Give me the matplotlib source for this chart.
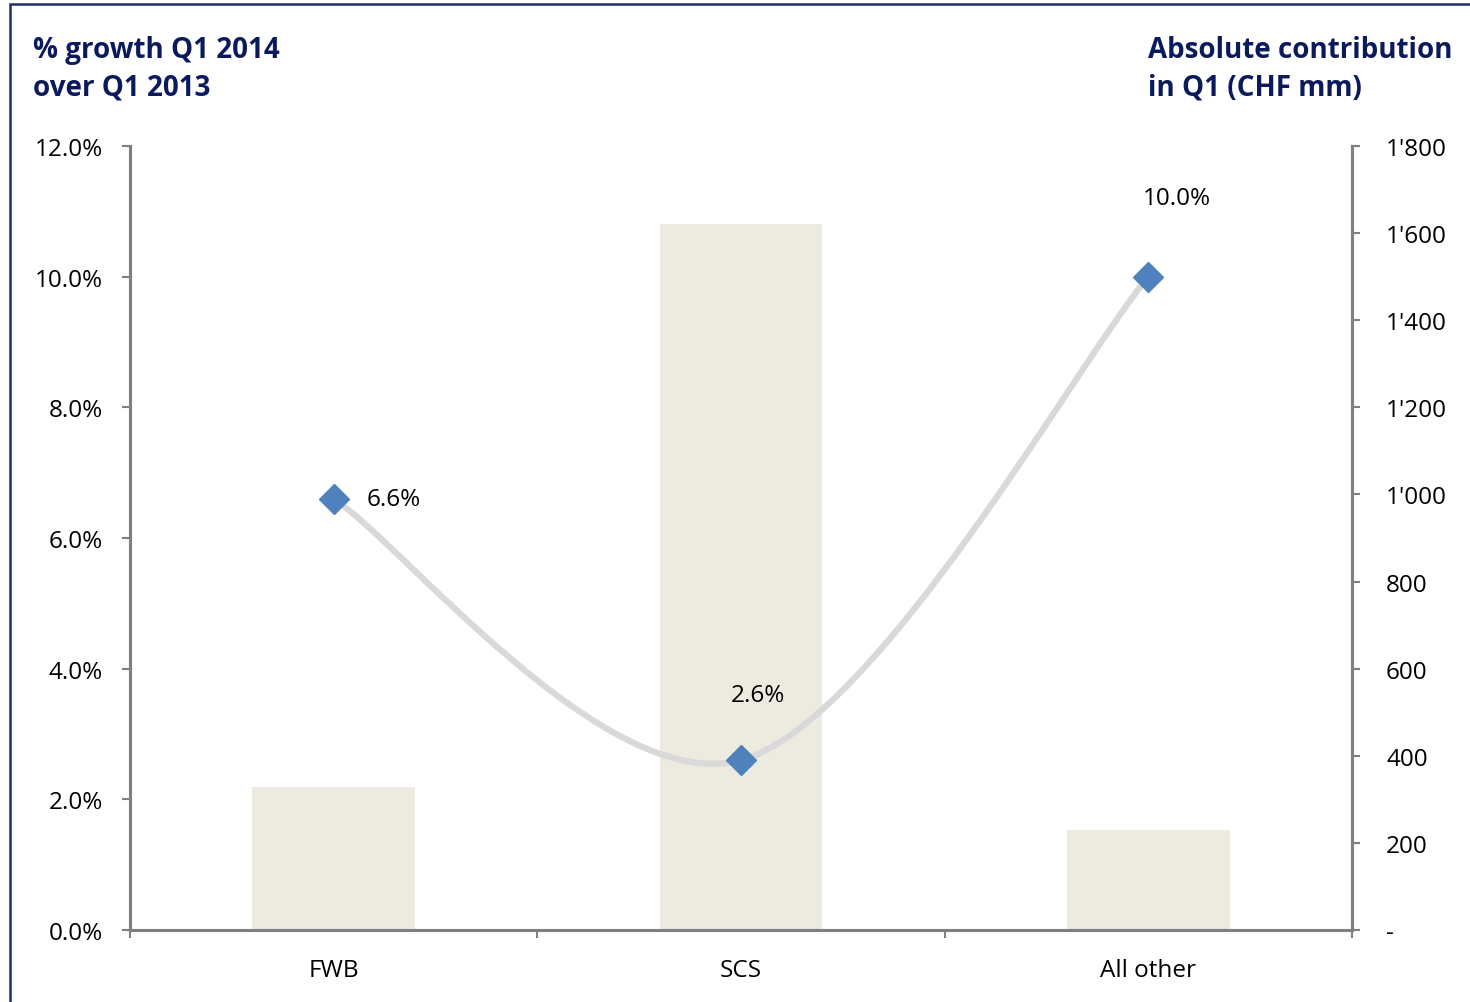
import matplotlib
matplotlib.use("Agg")
import matplotlib.pyplot as plt
from matplotlib.path import Path
from matplotlib.patches import PathPatch, Rectangle
from matplotlib.ticker import FuncFormatter
import numpy as np

categories = ["FWB", "SCS", "All other"]
contribution_chf_mm = [328, 1620, 230]      # bars, right axis
growth_pct = [6.6, 2.6, 10.0]               # line, left axis
growth_labels = ["6.6%", "2.6%", "10.0%"]

NAVY = "#0b1a5c"
GRID = "#808080"
BAR = "#edeae0"
LINE = "#d9d9d9"
MARK = "#4f81bd"

plt.rcParams["font.family"] = ["Open Sans", "DejaVu Sans"]
FS = 17.5

fig = plt.figure(figsize=(14.7, 10.03), dpi=100)
ax = fig.add_axes([130 / 1470, 1 - 931 / 1003, (1352 - 130) / 1470, (931 - 147) / 1003])
ax2 = ax.twinx()

x = np.arange(len(categories))

# bars on the secondary (right) axis
ax2.bar(x, contribution_chf_mm, width=0.4, color=BAR, zorder=1)
ax2.set_ylim(0, 1800)
ax2.set_yticks(np.arange(0, 1801, 200))
ax2.yaxis.set_major_formatter(FuncFormatter(
    lambda v, p: "-" if v == 0 else f"{int(v):,}".replace(",", "'")))

# growth line drawn on top
ax.set_zorder(ax2.get_zorder() + 1)
ax.patch.set_visible(False)
ax.set_ylim(0, 12)
ax.set_xlim(-0.5, len(categories) - 0.5)
ax.set_yticks(np.arange(0, 12.1, 2))
ax.yaxis.set_major_formatter(FuncFormatter(lambda v, p: f"{v:.1f}%"))

# smoothed connector (cubic Bezier through the points, Excel-style)
pts = np.column_stack([x, growth_pct]).astype(float)
verts = [tuple(pts[0])]
codes = [Path.MOVETO]
n = len(pts)
for i in range(n - 1):
    p0 = pts[max(i - 1, 0)]
    p1 = pts[i]
    p2 = pts[i + 1]
    p3 = pts[min(i + 2, n - 1)]
    c1 = p1 + (p2 - p0) / 6.0
    c2 = p2 - (p3 - p1) / 6.0
    verts += [tuple(c1), tuple(c2), tuple(p2)]
    codes += [Path.CURVE4] * 3
ax.add_patch(PathPatch(Path(verts, codes), facecolor="none", edgecolor=LINE,
                       lw=4.5, capstyle="round", zorder=2))
ax.plot(x, growth_pct, linestyle="none", marker="D", markersize=15,
        color=MARK, zorder=3)

label_offsets = [(33, 0, "left", "center"), (17, 65, "center", "center"),
                 (29, 79, "center", "center")]
for xi, yi, lab, (dx, dy, ha, va) in zip(x, growth_pct, growth_labels, label_offsets):
    ax.annotate(lab, (xi, yi), xytext=(dx, dy), textcoords="offset pixels",
                ha=ha, va=va, fontsize=FS, color="black")

# axes styling
ax.set_xticks(x)
ax.set_xticklabels(categories, fontsize=FS)
ax.tick_params(axis="x", length=0, pad=20)
ax.set_xticks(np.arange(-0.5, len(categories), 1), minor=True)
ax.tick_params(axis="x", which="minor", length=6, width=1.5, color=GRID, direction="out")
ax.tick_params(axis="y", length=6, width=1.5, color=GRID, labelsize=FS, pad=13.5)
ax2.tick_params(axis="y", length=6, width=1.5, color=GRID, labelsize=FS, pad=18.5)

for a in (ax, ax2):
    a.spines["top"].set_visible(False)
    for s in ("left", "right", "bottom"):
        a.spines[s].set_color(GRID)
        a.spines[s].set_linewidth(2.2)

# titles
title_kw = dict(ha="left", va="top", fontsize=20, fontweight="bold",
                color=NAVY, linespacing=1.38)
fig.text(33 / 1470, 1 - 36 / 1003, "% growth Q1 2014\nover Q1 2013", **title_kw)
fig.text(1148 / 1470, 1 - 36 / 1003, "Absolute contribution\nin Q1 (CHF mm)", **title_kw)

# outer frame
fig.patches.append(Rectangle((10 / 1470, -0.01), 1.5, 1 - 5 / 1003 + 0.01,
                             transform=fig.transFigure, fill=False,
                             edgecolor="#1f2e6e", lw=1.8))

fig.savefig("out.png", dpi=100)
